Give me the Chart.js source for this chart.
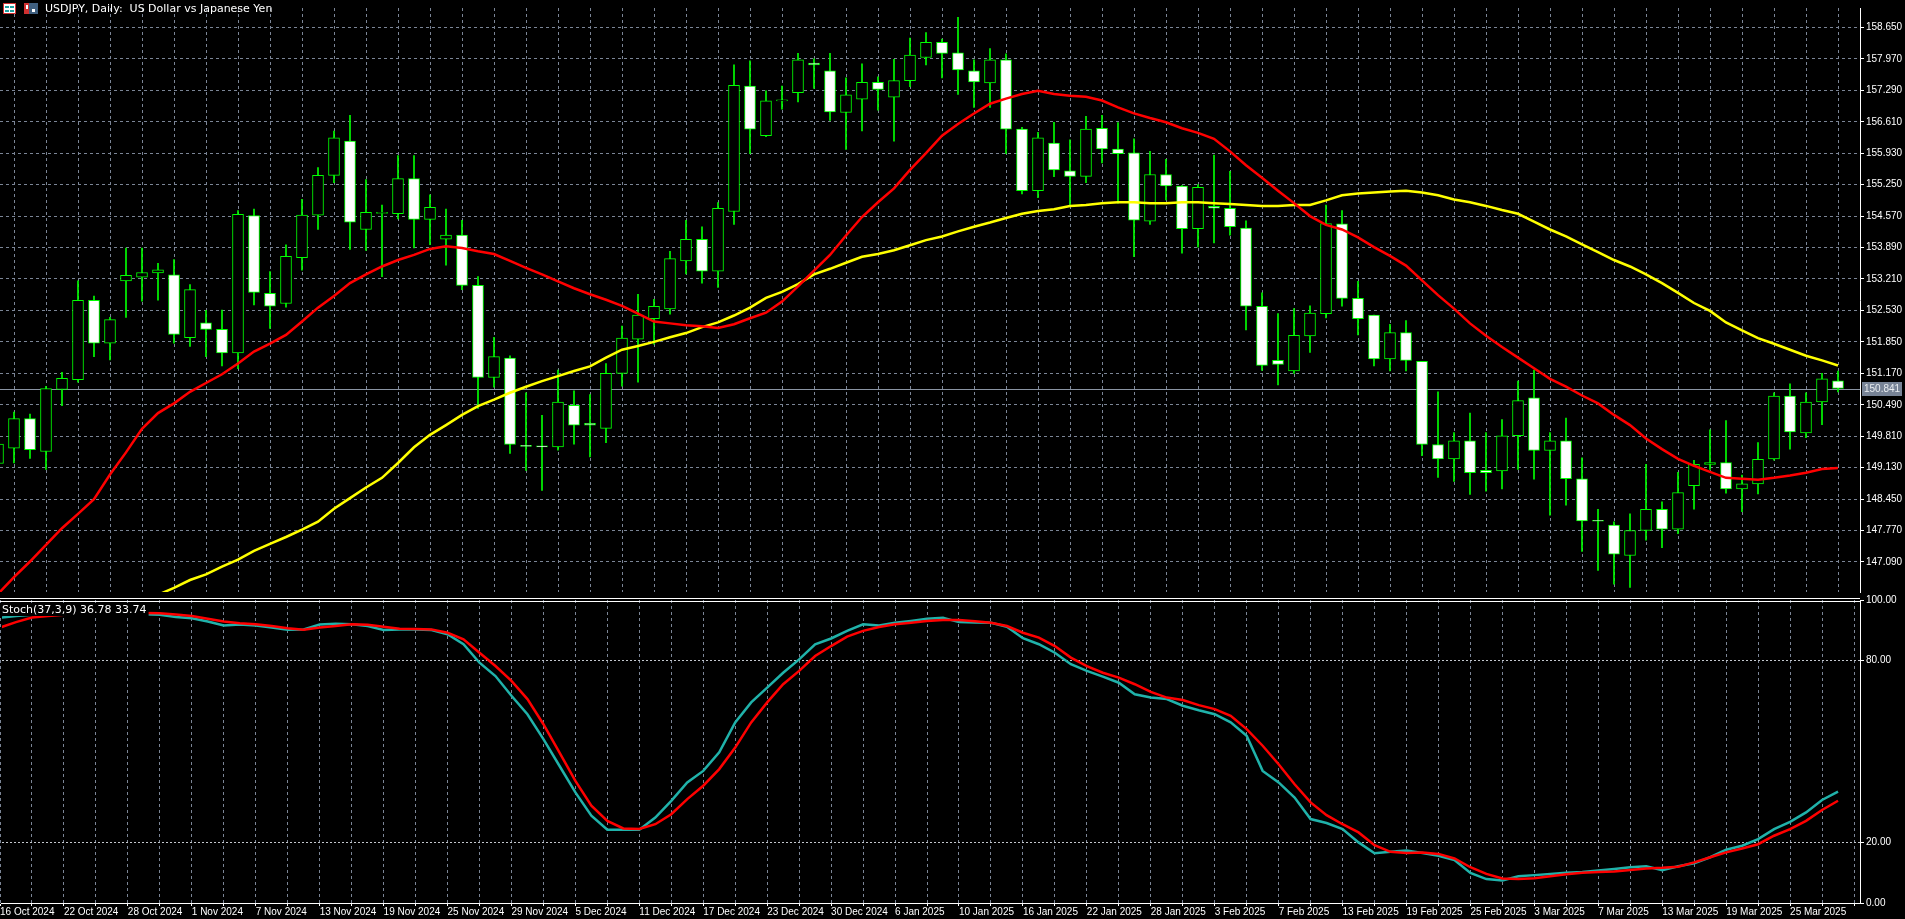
<!DOCTYPE html>
<html><head><meta charset="utf-8">
<script src="https://cdn.jsdelivr.net/npm/chart.js@4.4.1/dist/chart.umd.min.js"></script>
<style>
html,body{margin:0;padding:0;background:#000;overflow:hidden;width:1905px;height:919px}
canvas{position:absolute;left:0}
#cA{top:0}
#cB{top:590px}
.sep{position:absolute;left:0;width:1860px;height:1px;background:#fff}
</style></head><body>
<canvas id="cA" width="1905" height="600"></canvas>
<canvas id="cB" width="1905" height="329"></canvas>
<div class="sep" style="top:598px"></div>
<div class="sep" style="top:601px"></div>
<script>
const tickLabels=["16 Oct 2024","22 Oct 2024","28 Oct 2024","1 Nov 2024","7 Nov 2024","13 Nov 2024","19 Nov 2024","25 Nov 2024","29 Nov 2024","5 Dec 2024","11 Dec 2024","17 Dec 2024","23 Dec 2024","30 Dec 2024","6 Jan 2025","10 Jan 2025","16 Jan 2025","22 Jan 2025","28 Jan 2025","3 Feb 2025","7 Feb 2025","13 Feb 2025","19 Feb 2025","25 Feb 2025","3 Mar 2025","7 Mar 2025","13 Mar 2025","19 Mar 2025","25 Mar 2025"];
const priceTickLabels=["147.090","147.770","148.450","149.130","149.810","150.490","151.170","151.850","152.530","153.210","153.890","154.570","155.250","155.930","156.610","157.290","157.970","158.650"];
const stochTickLabels=["0.00","20.00","80.00","100.00"];
const opens=[149.22,149.55,150.19,149.48,150.82,151.03,152.75,151.82,153.17,153.25,153.34,153.30,151.94,152.26,152.12,151.61,154.58,152.90,152.68,153.67,154.59,155.45,156.19,154.28,154.63,154.62,155.38,154.50,154.07,154.16,153.07,151.08,151.50,149.60,149.59,149.58,150.48,150.09,149.98,151.17,151.91,152.35,152.56,153.60,154.07,153.38,154.67,157.38,156.31,157.06,157.24,157.88,157.71,156.81,157.10,157.46,157.14,157.50,158.00,158.33,158.10,157.71,157.45,157.95,156.45,155.12,156.15,155.55,155.43,156.47,156.02,155.94,154.46,155.47,155.22,154.30,154.78,154.74,154.31,152.62,151.45,151.22,151.98,152.46,154.40,152.79,152.43,151.48,152.05,151.43,149.63,149.32,149.71,149.07,149.06,149.82,150.64,149.50,149.71,148.89,147.98,147.89,147.23,147.77,148.23,147.80,148.74,149.20,149.24,148.67,148.78,149.32,150.68,149.88,150.55,151.01];
const highs=[149.75,150.33,150.29,150.89,151.19,153.17,152.84,152.38,153.88,153.88,153.55,153.63,153.09,152.53,152.54,154.69,154.72,153.37,153.95,154.93,155.62,156.41,156.75,155.36,154.81,155.88,155.88,155.03,154.72,154.48,153.26,151.95,151.55,150.75,150.26,151.24,150.79,150.71,151.38,152.19,152.88,152.77,153.81,154.48,154.34,154.86,157.84,157.93,157.28,157.38,158.09,157.97,158.09,157.56,157.86,157.58,157.96,158.42,158.54,158.40,158.87,157.95,158.19,158.08,156.49,156.38,156.60,156.22,156.73,156.75,156.59,156.24,155.97,155.80,155.23,155.25,155.89,155.54,154.47,152.91,152.46,152.57,152.63,154.81,154.69,153.16,152.43,152.23,152.31,151.43,150.77,149.89,150.31,149.89,150.17,151.00,151.24,149.89,150.20,149.34,148.23,147.96,148.13,149.20,148.39,149.03,149.29,149.95,150.15,148.97,149.67,150.75,150.94,150.75,151.17,151.22];
const lows=[149.10,149.23,149.33,149.09,150.47,150.98,151.53,151.46,152.38,152.73,152.75,151.82,151.75,151.53,151.33,151.27,152.65,152.14,152.60,153.40,154.28,155.29,153.85,153.83,153.26,154.51,153.88,153.95,153.51,152.98,150.41,150.87,149.44,149.07,148.64,149.51,149.64,149.36,149.67,150.89,150.98,151.80,152.45,153.32,153.12,153.03,154.39,155.92,156.29,156.88,157.04,157.33,156.64,156.01,156.41,156.86,156.19,157.37,157.84,157.56,157.20,156.92,156.92,155.92,155.05,154.97,155.42,154.78,155.29,155.72,154.85,153.69,154.39,154.92,153.77,153.90,153.99,154.16,152.11,151.23,150.92,151.17,151.62,152.37,152.62,152.00,151.33,151.22,151.22,149.39,148.92,148.83,148.55,148.62,148.67,149.09,148.88,148.10,148.32,147.32,146.91,146.61,146.54,147.56,147.40,147.70,148.23,149.09,148.58,148.18,148.56,149.29,149.53,149.78,150.06,150.77];
const closes=[149.64,150.19,149.52,150.84,151.06,152.75,151.82,152.33,153.29,153.35,153.41,152.01,152.98,152.12,151.61,154.61,152.92,152.62,153.70,154.59,155.45,156.26,154.44,154.65,154.64,155.38,154.50,154.76,154.16,153.07,151.08,151.53,149.63,149.59,149.58,150.55,150.05,150.05,151.17,151.93,152.43,152.62,153.65,154.07,153.38,154.74,157.40,156.45,157.06,157.07,157.95,157.84,156.82,157.19,157.46,157.31,157.50,158.05,158.33,158.09,157.73,157.47,157.95,156.45,155.12,156.26,155.57,155.43,156.45,156.02,155.92,154.48,155.47,155.22,154.30,155.19,154.74,154.34,152.62,151.34,151.36,151.99,152.47,154.41,152.79,152.35,151.48,152.05,151.45,149.63,149.32,149.71,149.02,149.02,149.82,150.58,149.50,149.71,148.89,147.98,147.97,147.26,147.77,148.23,147.80,148.59,149.20,149.24,148.67,148.78,149.31,150.68,149.90,150.55,151.05,150.841];
const maFast=[146.40,146.76,147.10,147.46,147.82,148.13,148.45,148.98,149.46,149.97,150.31,150.52,150.77,150.96,151.15,151.38,151.64,151.81,152.00,152.29,152.59,152.84,153.12,153.31,153.48,153.62,153.73,153.86,153.92,153.88,153.81,153.75,153.60,153.45,153.31,153.16,153.01,152.88,152.76,152.63,152.46,152.29,152.25,152.21,152.19,152.15,152.23,152.36,152.48,152.72,153.05,153.39,153.73,154.15,154.55,154.87,155.17,155.57,155.93,156.31,156.56,156.79,157.00,157.11,157.21,157.28,157.21,157.17,157.15,157.07,156.92,156.79,156.69,156.60,156.47,156.37,156.24,155.97,155.67,155.40,155.12,154.85,154.57,154.38,154.28,154.11,153.90,153.71,153.50,153.18,152.86,152.57,152.25,151.98,151.74,151.51,151.28,151.05,150.88,150.69,150.52,150.27,150.05,149.76,149.53,149.32,149.17,149.04,148.91,148.89,148.87,148.91,148.96,149.02,149.10,149.12];
const maSlow=[null,null,null,null,null,null,null,null,null,null,146.38,146.53,146.70,146.82,146.99,147.14,147.33,147.48,147.63,147.79,147.96,148.24,148.47,148.70,148.91,149.23,149.57,149.84,150.05,150.27,150.46,150.60,150.75,150.88,151.00,151.11,151.22,151.32,151.51,151.68,151.76,151.85,151.95,152.04,152.17,152.27,152.42,152.59,152.80,152.93,153.10,153.31,153.43,153.56,153.69,153.75,153.83,153.94,154.05,154.13,154.24,154.34,154.43,154.53,154.62,154.68,154.72,154.79,154.81,154.85,154.87,154.87,154.85,154.85,154.87,154.87,154.85,154.83,154.81,154.79,154.79,154.81,154.81,154.91,155.02,155.06,155.08,155.10,155.12,155.08,155.02,154.93,154.87,154.79,154.70,154.62,154.45,154.28,154.13,153.96,153.79,153.62,153.48,153.31,153.12,152.91,152.69,152.52,152.27,152.10,151.93,151.81,151.68,151.55,151.45,151.34];
const stochK=[94.2,94.7,95.1,95.3,95.3,95.3,95.3,95.3,95.3,95.3,95.1,94.4,94.0,92.9,91.6,91.9,91.6,90.9,90.2,90.3,91.9,92.2,92.0,91.4,90.1,90.3,90.3,90.1,88.7,85.4,79.3,74.9,68.4,62.3,54.1,45.3,36.5,28.8,24.2,24.2,24.2,28.2,33.7,39.8,43.6,49.7,59.6,66.2,71.1,76.0,80.4,85.4,87.3,89.8,92.0,91.6,92.5,93.1,93.8,94.1,92.7,92.6,92.5,91.2,87.4,85.4,82.6,78.8,76.6,74.7,72.7,68.9,67.8,67.3,65.1,63.6,62.3,59.6,55.2,43.6,39.8,34.8,27.7,26.4,24.4,20.0,16.4,16.9,17.3,16.5,15.6,14.2,9.9,7.9,7.4,8.8,9.2,9.6,10.0,10.2,10.7,11.2,11.8,12.1,10.8,12.1,13.1,15.1,17.6,18.9,21.1,24.4,26.8,29.9,34.0,36.78];
const stochD=[90.9,92.7,94.2,94.7,95.1,95.4,95.6,95.8,95.8,95.7,95.6,95.2,94.7,93.8,92.9,92.3,92.0,91.4,90.7,90.2,90.9,91.4,92.0,91.8,91.2,90.5,90.4,90.3,89.2,87.0,82.6,78.2,73.3,67.3,59.0,49.7,40.3,32.1,27.1,24.6,24.4,26.0,29.3,34.3,38.7,44.2,51.3,59.6,66.2,72.2,76.6,81.5,84.8,87.9,89.8,91.1,92.0,92.5,93.1,93.4,93.4,93.0,92.5,91.4,89.2,87.6,84.8,81.0,78.2,76.0,74.4,72.2,69.7,67.8,67.0,65.3,64.0,61.8,57.4,51.9,45.8,39.2,33.2,29.0,26.0,23.3,19.1,16.9,16.5,16.7,16.2,14.7,11.8,9.6,8.1,7.9,8.2,8.8,9.5,10.0,10.2,10.4,10.9,11.4,11.6,12.0,13.4,15.1,16.7,18.0,19.4,22.2,24.4,27.1,30.7,33.74];
const lastPrice=150.841;

const N=opens.length;
const XMIN=0.125, XMAX=0.125+1860/16;
const GRID='#7b8596';
const FONT={family:'Liberation Sans, Arial, sans-serif',size:10};
const evenTicks=[];for(let i=0;i<=116;i+=2)evenTicks.push({value:i});

const wicks=[],bodies=[],bodyFill=[];
for(let i=0;i<N;i++){
  wicks.push({x:i,y:[lows[i],highs[i]]});
  bodies.push({x:i,y:[Math.min(opens[i],closes[i]),Math.max(opens[i],closes[i])]});
  bodyFill.push(closes[i]<opens[i]?'#ffffff':'#000000');
}
const pts=a=>a.map((v,i)=>({x:i,y:v}));

const plugA={id:'pa',
  beforeDatasetsDraw(c){const ctx=c.ctx,y=c.scales.y.getPixelForValue(lastPrice);
    ctx.save();ctx.strokeStyle='#8a94a3';ctx.lineWidth=1;ctx.beginPath();ctx.moveTo(0,Math.round(y)+0.5);ctx.lineTo(1860,Math.round(y)+0.5);ctx.stroke();ctx.restore();},
  afterDraw(c){const ctx=c.ctx;ctx.save();
    const y=Math.round(c.scales.y.getPixelForValue(lastPrice));
    ctx.fillStyle='#778396';ctx.fillRect(1862,y-7,40,14);
    ctx.fillStyle='#e8ecf0';ctx.font='10px Liberation Sans';ctx.textBaseline='middle';ctx.fillText(lastPrice.toFixed(3),1864,y);
    // icons
    ctx.fillStyle='#fff';ctx.fillRect(3,3,13,11);ctx.strokeStyle='#d03030';ctx.strokeRect(3.5,3.5,12,10);
    ctx.fillStyle='#20a0a0';ctx.fillRect(5,6,4,2);ctx.fillRect(10,6,4,2);ctx.fillRect(5,10,4,2);ctx.fillRect(10,10,4,2);
    ctx.fillStyle='#d03030';ctx.fillRect(24,3,5,11);ctx.fillStyle='#406080';ctx.fillRect(29,3,9,11);ctx.fillStyle='#fff';ctx.fillRect(26,5,2,4);ctx.fillRect(32,9,3,3);
    ctx.fillStyle='#ffffff';ctx.font='11px DejaVu Sans';ctx.textBaseline='middle';ctx.fillText('USDJPY, Daily:  US Dollar vs Japanese Yen',45,9);
    ctx.restore();}
};
new Chart(document.getElementById('cA'),{
  type:'bar',
  data:{datasets:[
    {type:'line',data:pts(maFast),borderColor:'#ff0000',borderWidth:2.5,pointRadius:0,order:0},
    {type:'line',data:pts(maSlow),borderColor:'#ffff00',borderWidth:2.5,pointRadius:0,order:0},
    {data:bodies,backgroundColor:bodyFill,borderColor:'#00ff00',borderWidth:1,borderSkipped:false,barThickness:11,grouped:false,minBarLength:1,order:1},
    {data:wicks,backgroundColor:'#00ff00',borderWidth:0,barThickness:1,grouped:false,order:2}
  ]},
  options:{responsive:false,animation:false,devicePixelRatio:1,
    layout:{padding:0},
    plugins:{legend:{display:false},tooltip:{enabled:false}},
    scales:{
      x:{type:'linear',min:XMIN,max:XMAX,offset:false,
        afterBuildTicks:s=>{s.ticks=evenTicks.map(t=>({value:t.value}));},
        afterFit:s=>{s.height=2;},
        ticks:{display:false},
        grid:{color:GRID,lineWidth:1,drawTicks:false},
        border:{display:false,dash:[3,3]}},
      y:{position:'right',min:159.07-598/47.35,max:159.07,
        afterBuildTicks:s=>{s.ticks=priceTickLabels.map(t=>({value:parseFloat(t)}));},
        afterFit:s=>{s.width=45;},
        ticks:{color:'#ffffff',font:FONT,padding:2,autoSkip:false,callback:(v,i)=>priceTickLabels[i]},
        grid:{color:GRID,lineWidth:1,tickLength:4,tickColor:'#ffffff',tickBorderDash:[]},
        border:{display:true,color:'#ffffff',dash:[3,3]}}
    }},
  plugins:[plugA]
});

const plugB={id:'pb',afterDraw(c){const ctx=c.ctx;ctx.save();
  ctx.font='11px DejaVu Sans';const t='Stoch(37,3,9) '+stochK[N-1].toFixed(2)+' '+stochD[N-1].toFixed(2);
  const w=ctx.measureText(t).width;ctx.fillStyle='#000';ctx.fillRect(0,13,w+4,13);
  ctx.fillStyle='#fff';ctx.textBaseline='middle';ctx.fillText(t,2,20);ctx.restore();}};
new Chart(document.getElementById('cB'),{
  type:'line',
  data:{datasets:[
    {data:pts(stochD),borderColor:'#ff0000',borderWidth:2.5,pointRadius:0,order:0},
    {data:pts(stochK),borderColor:'#20b2aa',borderWidth:2.5,pointRadius:0,order:1}
  ]},
  options:{responsive:false,animation:false,devicePixelRatio:1,
    layout:{padding:{top:10,left:0,right:0,bottom:0}},
    plugins:{legend:{display:false},tooltip:{enabled:false}},
    scales:{
      x:{type:'linear',min:XMIN,max:XMAX,offset:false,
        afterBuildTicks:s=>{s.ticks=evenTicks.map(t=>({value:t.value}));},
        afterFit:s=>{s.height=16;},
        ticks:{color:'#ffffff',font:FONT,align:'start',padding:0,maxRotation:0,autoSkip:false,
          callback:v=>(v%4===0&&tickLabels[v/4])?tickLabels[v/4]:''},
        grid:{color:GRID,lineWidth:1,tickLength:3,tickColor:'#ffffff',tickBorderDash:[]},
        border:{display:true,color:'#ffffff',dash:[3,3]}},
      y:{position:'right',min:0,max:100,
        afterBuildTicks:s=>{s.ticks=stochTickLabels.map(t=>({value:parseFloat(t)}));},
        afterFit:s=>{s.width=45;},
        ticks:{color:'#ffffff',font:FONT,padding:2,autoSkip:false,callback:(v,i)=>stochTickLabels[i]},
        grid:{color:ctx=>(ctx.tick&&(ctx.tick.value===20||ctx.tick.value===80))?'#c4c8ce':'rgba(0,0,0,0)',lineWidth:1,tickLength:4,tickColor:'#ffffff',tickBorderDash:[]},
        border:{display:true,color:'#ffffff',dash:[2,2]}}
    }},
  plugins:[plugB]
});
</script></body></html>
